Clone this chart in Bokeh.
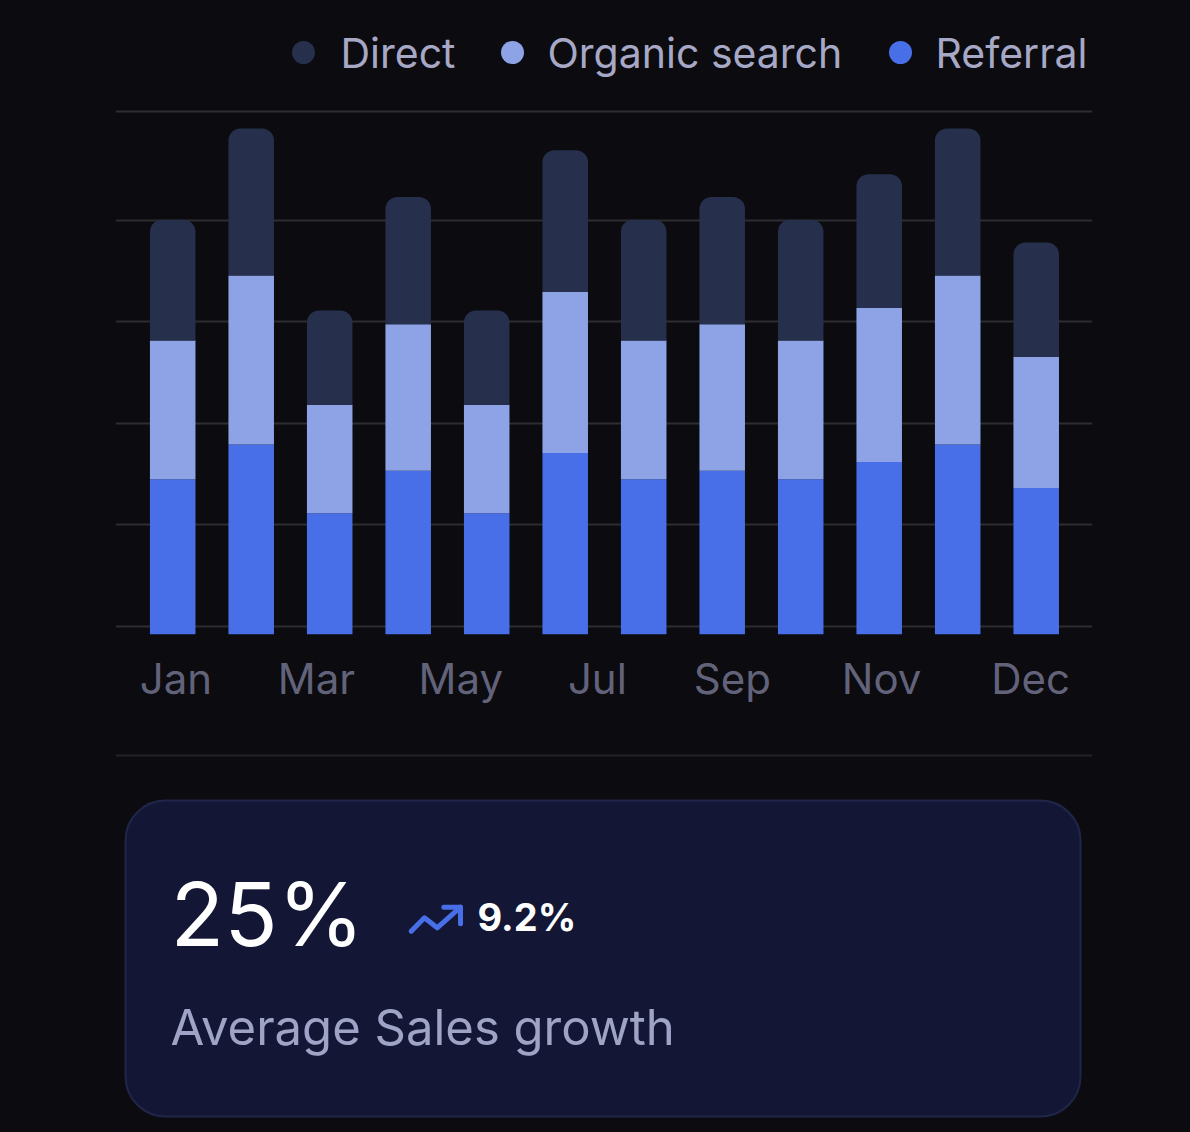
from bokeh.plotting import figure
from bokeh.layouts import column
from bokeh.models import Range1d, FixedTicker, CustomJSTickFormatter, ColumnDataSource
from bokeh.transform import stack
from bokeh.core.properties import value
from bokeh.embed import file_html
from bokeh.resources import INLINE

# ---------------- data ----------------
months = ["Jan", "Feb", "Mar", "Apr", "May", "Jun", "Jul", "Aug", "Sep", "Oct", "Nov", "Dec"]
referral = [30.6, 37.5, 23.9, 32.3, 23.9, 35.8, 30.6, 32.3, 30.6, 34.0, 37.5, 28.9]
organic = [27.4, 33.3, 21.4, 28.9, 21.4, 31.8, 27.4, 28.9, 27.4, 30.4, 33.3, 25.9]
direct = [23.8, 29.0, 18.6, 25.1, 18.6, 27.9, 23.8, 25.1, 23.8, 26.4, 29.0, 22.5]
tick_labels = ["Jan", "Mar", "May", "Jul", "Sep", "Nov", "Dec"]
series = ["Direct", "Organic search", "Referral"]
headline = "25%"
change = "9.2%"
subtitle = "Average Sales growth"

# ---------------- style ----------------
BG = "#0b0b10"
C_DIRECT = "#26304c"
C_ORGANIC = "#8da3e6"
C_REFERRAL = "#486fe8"
FONT = "Inter"
LEFT, RIGHT = 115, 98          # common frame borders (column aligns frames)
FX0, FX1 = LEFT, 1190 - RIGHT  # frame extent in page pixels


def deco_fig(height, y0, y1):
    f = figure(width=1190, height=height, x_range=Range1d(FX0, FX1), y_range=Range1d(y1, y0),
               output_backend="svg", toolbar_location=None,
               x_axis_location=None, y_axis_location=None,
               min_border_left=LEFT, min_border_right=RIGHT, min_border_top=0, min_border_bottom=0,
               background_fill_color=BG, border_fill_color=BG, outline_line_color=None)
    f.grid.visible = False
    return f


# ---------------- header (legend) ----------------
header = deco_fig(100, 0, 100)
header.scatter(x=[303, 512, 900], y=[52, 52, 52], size=23,
               color=[C_DIRECT, C_ORGANIC, C_REFERRAL], line_color=None)
header.text(x=[340, 547, 935], y=[52, 52, 52], text=series,
            text_font=value(FONT), text_font_size="41px", text_color="#a6a8c6",
            text_baseline="middle", text_align="left")

# ---------------- chart ----------------
src = ColumnDataSource(dict(x=list(range(len(months))), month=months,
                            referral=referral, organic=organic, direct=direct))

chart = figure(width=1190, height=650,
               x_range=Range1d(-0.7287, 11.717), y_range=Range1d(0, 103.75),
               output_backend="svg", toolbar_location=None,
               min_border_left=LEFT, min_border_right=RIGHT, min_border_top=8, min_border_bottom=116,
               background_fill_color=BG, border_fill_color=BG, outline_line_color=None)

bw = 0.58
chart.vbar(x="x", bottom=0, top=stack("referral"), width=bw, source=src,
           fill_color=C_REFERRAL, line_color=None)
chart.vbar(x="x", bottom=stack("referral"), top=stack("referral", "organic"), width=bw,
           source=src, fill_color=C_ORGANIC, line_color=None)
chart.vbar(x="x", bottom=stack("referral", "organic"), top=stack("referral", "organic", "direct"),
           width=bw, source=src, fill_color=C_DIRECT, line_color=None,
           border_radius=(12, 12, 0, 0))

chart.yaxis.visible = False
chart.xgrid.visible = False
chart.ygrid[0].ticker = FixedTicker(ticks=[1.6, 21.7, 41.7, 61.7, 81.7, 103.2])
chart.ygrid.grid_line_color = "#2c2c31"
chart.ygrid.grid_line_width = 2

label_pos = [0.04, 1.83, 3.67, 5.41, 7.13, 9.03, 10.93]
xa = chart.xaxis[0]
xa.ticker = FixedTicker(ticks=label_pos)
xa.formatter = CustomJSTickFormatter(args=dict(labels=tick_labels), code="return labels[index];")
xa.axis_line_color = None
xa.major_tick_line_color = None
xa.minor_tick_line_color = None
xa.major_label_text_font = FONT
xa.major_label_text_font_size = "42px"
xa.major_label_text_color = "#62637a"
xa.major_label_standoff = 12

# ---------------- KPI card ----------------
card = deco_fig(382, 750, 1132)
card.segment(x0=[115], y0=[755], x1=[1092], y1=[755], line_color="#232327", line_width=2)
card.quad(left=[125], right=[1080], top=[800], bottom=[1116], fill_color="#131735",
          line_color="#20264a", line_width=2, border_radius=40)
card.text(x=[170], y=[913], text=[headline], text_font=value(FONT), text_font_size="88px",
          text_color="#ffffff", text_baseline="middle")
card.line(x=[410.7, 424, 436.7, 460], y=[930.7, 917.3, 927.3, 906.7], line_width=5,
          line_color=C_REFERRAL, line_cap="round", line_join="round")
card.line(x=[443.3, 460, 460], y=[906.7, 906.7, 923.3], line_width=5,
          line_color=C_REFERRAL, line_cap="round", line_join="round")
card.text(x=[477], y=[916], text=[change], text_font=value(FONT), text_font_size="38px",
          text_font_style="bold", text_color="#ffffff", text_baseline="middle")
card.text(x=[170], y=[1027], text=[subtitle], text_font=value(FONT), text_font_size="49px",
          text_color="#9fa3c6", text_baseline="middle")

layout = column(header, chart, card, spacing=0, styles={"background-color": BG})
open("out.html", "w").write(file_html(layout, INLINE))
